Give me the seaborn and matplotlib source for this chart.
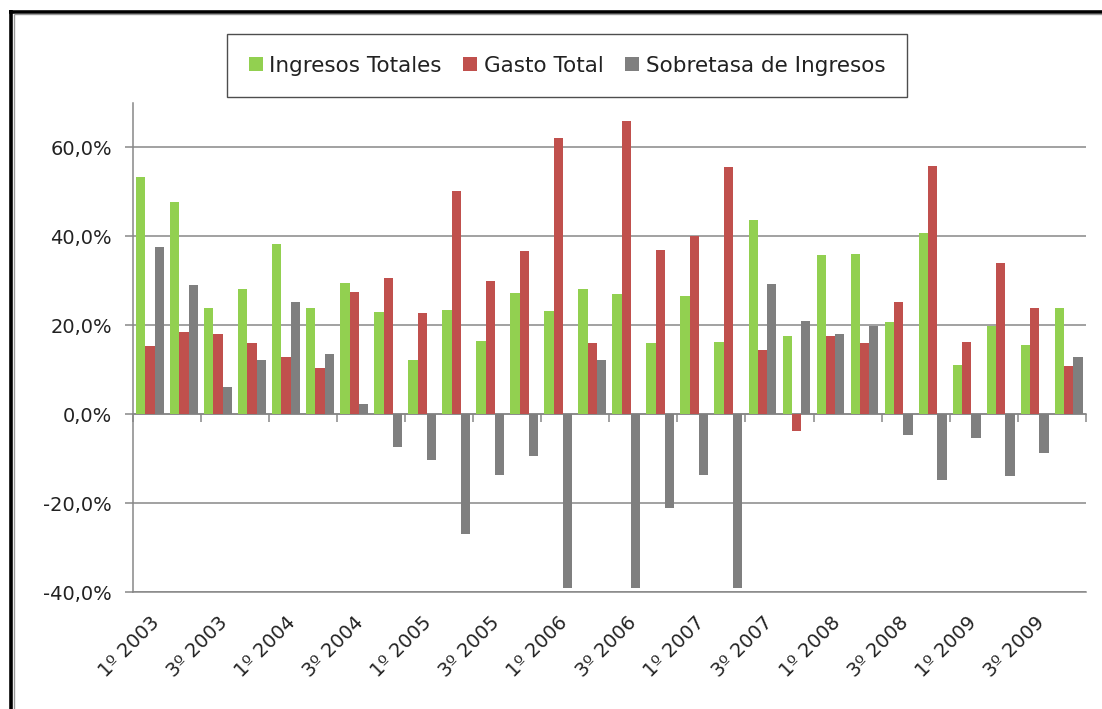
import numpy as np
import pandas as pd
import seaborn as sns
import matplotlib.pyplot as plt
from matplotlib.lines import Line2D
from matplotlib.ticker import FuncFormatter

# Quarterly growth rates (%), 1º 2003 .. 4º 2009
trimestres = [f"{q}º {y}" for y in range(2003, 2010) for q in (1, 2, 3, 4)]

ingresos_totales = [53.2, 47.6, 23.9, 28.2, 38.3, 23.9, 29.5, 22.9,
                    12.1, 23.4, 16.4, 27.3, 23.2, 28.2, 27.0, 15.9,
                    26.5, 16.1, 43.6, 17.6, 35.8, 36.0, 20.7, 40.6,
                    11.1, 19.9, 15.6, 23.9]
gasto_total = [15.4, 18.4, 17.9, 15.9, 12.8, 10.3, 27.4, 30.5,
               22.7, 50.2, 30.0, 36.6, 62.0, 15.9, 65.8, 36.8,
               40.0, 55.5, 14.4, -3.8, 17.6, 15.9, 25.2, 55.7,
               16.1, 34.0, 23.9, 10.9]
sobretasa = [37.6, 29.0, 6.1, 12.1, 25.3, 13.6, 2.2, -7.5,
             -10.3, -26.9, -13.6, -9.5, -39.0, 12.1, -39.0, -21.2,
             -13.6, -39.0, 29.3, 20.9, 18.1, 19.9, -4.7, -14.8,
             -5.3, -14.0, -8.8, 12.8]

series = ["Ingresos Totales", "Gasto Total", "Sobretasa de Ingresos"]
colores = ["#92D050", "#C0504D", "#7F7F7F"]
etiquetas = trimestres[::2]

df = pd.DataFrame({"trimestre": trimestres,
                   series[0]: ingresos_totales,
                   series[1]: gasto_total,
                   series[2]: sobretasa})
df = df.melt(id_vars="trimestre", var_name="serie", value_name="valor")

sns.set_theme(style="white")
plt.rcParams['font.family'] = ['DejaVu Sans']

fig = plt.figure(figsize=(11.02, 7.09), dpi=100)
ax = fig.add_axes([133 / 1102, 1 - 592 / 709, (1085.7 - 133) / 1102, (592 - 102.7) / 709])

sns.barplot(data=df, x="trimestre", y="valor", hue="serie", order=trimestres,
            hue_order=series, palette=colores, width=0.82, linewidth=0,
            saturation=1, ax=ax, legend=True)

grid_col = "#878787"
ymin, ymax = -40, 70
ax.set_ylim(ymin, ymax)
ax.set_xlim(-0.5, len(trimestres) - 0.5)
ax.set_yticks(np.arange(-40, 61, 20))
ax.yaxis.set_major_formatter(FuncFormatter(lambda v, p: f"{v:.1f}%".replace(".", ",")))
ax.yaxis.grid(True, color=grid_col, linewidth=1.1)
ax.set_axisbelow(True)
ax.tick_params(axis="y", left=True, length=6, width=1.1, color=grid_col,
               labelsize=14, pad=9, labelcolor="#222222")

ax.set_xticks(range(0, len(trimestres), 2))
ax.set_xticklabels(etiquetas, rotation=45, ha="right", rotation_mode="anchor",
                   fontsize=14, color="#222222")
ax.tick_params(axis="x", length=0, pad=15)
ax.set_xlabel("")
ax.set_ylabel("")

for s in ["top", "right"]:
    ax.spines[s].set_visible(False)
for s in ["left", "bottom"]:
    ax.spines[s].set_color(grid_col)
    ax.spines[s].set_linewidth(1.1)

# category axis crossing at 0 with tick marks every two quarters
sec = ax.secondary_xaxis((0 - ymin) / (ymax - ymin))
sec.set_xticks(np.arange(-0.5, len(trimestres), 2))
sec.set_xticklabels([])
sec.tick_params(axis="x", direction="out", length=6, width=1.1, color=grid_col)
sec.spines["bottom"].set_color(grid_col)
sec.spines["bottom"].set_linewidth(1.1)

handles, labels = ax.get_legend_handles_labels()
ax.legend_.remove()
leg = fig.legend(handles, labels, loc="center", bbox_to_anchor=(567 / 1102, 1 - 65.5 / 709),
                 bbox_transform=fig.transFigure, ncol=3, fontsize=15.5, frameon=True,
                 fancybox=False, edgecolor="#222222", handlelength=0.65, handleheight=0.65,
                 handletextpad=0.3, columnspacing=1.0, borderpad=1.0)
leg.get_frame().set_linewidth(1.0)
for t in leg.get_texts():
    t.set_color("#222222")

# outer frame of the pasted chart
tf = fig.transFigure
fig.add_artist(Line2D([10.5 / 1102, 10.5 / 1102], [0, 1 - 10 / 709], color="black",
                      linewidth=2.6, solid_capstyle="butt", transform=tf))
fig.add_artist(Line2D([9 / 1102, 1], [1 - 11.5 / 709, 1 - 11.5 / 709], color="black",
                      linewidth=2.6, solid_capstyle="butt", transform=tf))
fig.add_artist(Line2D([13.8 / 1102, 13.8 / 1102], [0, 1 - 13.5 / 709], color="#999999",
                      linewidth=1.0, solid_capstyle="butt", transform=tf))
fig.add_artist(Line2D([13.5 / 1102, 1], [1 - 14 / 709, 1 - 14 / 709], color="#999999",
                      linewidth=1.0, solid_capstyle="butt", transform=tf))

fig.savefig("out.png", dpi=100)
